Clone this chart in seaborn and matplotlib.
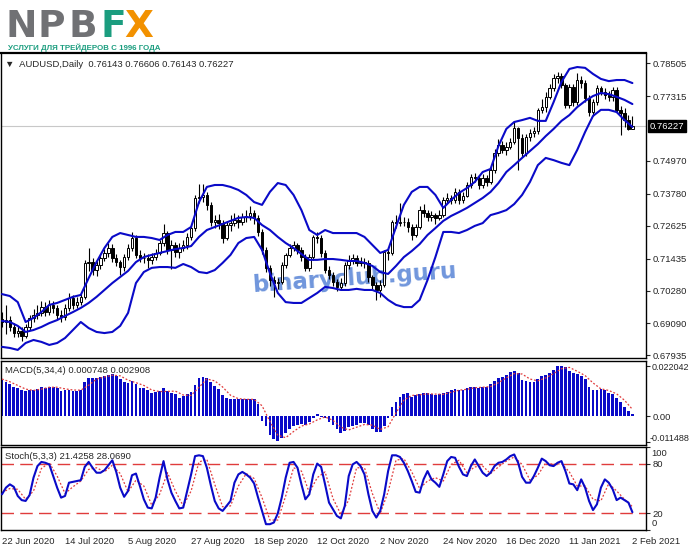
import numpy as np
import seaborn as sns
import matplotlib.pyplot as plt
from matplotlib.transforms import blended_transform_factory

sns.set_style("white")
plt.rcParams["font.family"] = ["Liberation Sans", "DejaVu Sans"]

# Daily candles AUDUSD, 22 Jun 2020 .. 2 Feb 2021
opens = [0.6925, 0.6914, 0.6921, 0.6896, 0.6874, 0.6882, 0.6863, 0.6896, 0.6929, 0.6939,
         0.6947, 0.6968, 0.6950, 0.6976, 0.6965, 0.6939, 0.6932, 0.6965, 0.7001, 0.6976,
         0.6987, 0.7005, 0.7128, 0.7131, 0.7102, 0.7120, 0.7146, 0.7164, 0.7182, 0.7146,
         0.7131, 0.7113, 0.7149, 0.7182, 0.7218, 0.7157, 0.7146, 0.7146, 0.7139, 0.7149,
         0.7164, 0.7200, 0.7236, 0.7175, 0.7193, 0.7167, 0.7182, 0.7193, 0.7222, 0.7254,
         0.7363, 0.7367, 0.7374, 0.7338, 0.7276, 0.7283, 0.7272, 0.7218, 0.7265, 0.7272,
         0.7283, 0.7276, 0.7294, 0.7298, 0.7309, 0.7291, 0.7240, 0.7175, 0.7110, 0.7066,
         0.7055, 0.7059, 0.7120, 0.7157, 0.7182, 0.7193, 0.7175, 0.7149, 0.7110, 0.7149,
         0.7222, 0.7218, 0.7164, 0.7102, 0.7084, 0.7059, 0.7041, 0.7055, 0.7120, 0.7139,
         0.7146, 0.7128, 0.7131, 0.7128, 0.7077, 0.7048, 0.7030, 0.7048, 0.7167, 0.7164,
         0.7276, 0.7272, 0.7276, 0.7276, 0.7258, 0.7229, 0.7258, 0.7320, 0.7309, 0.7294,
         0.7301, 0.7291, 0.7301, 0.7356, 0.7363, 0.7356, 0.7385, 0.7356, 0.7370, 0.7410,
         0.7439, 0.7435, 0.7410, 0.7435, 0.7421, 0.7464, 0.7526, 0.7555, 0.7537, 0.7548,
         0.7566, 0.7616, 0.7580, 0.7526, 0.7584, 0.7598, 0.7605, 0.7682, 0.7692, 0.7729,
         0.7761, 0.7797, 0.7805, 0.7772, 0.7700, 0.7765, 0.7710, 0.7790, 0.7779, 0.7725,
         0.7674, 0.7710, 0.7761, 0.7747, 0.7736, 0.7729, 0.7754, 0.7682, 0.7671, 0.7645,
         0.76143]
highs = [0.6950, 0.6975, 0.6935, 0.6910, 0.6900, 0.6895, 0.6905, 0.6940, 0.6962, 0.6975,
         0.6990, 0.6985, 0.6995, 0.6990, 0.6975, 0.6958, 0.6978, 0.7020, 0.7010, 0.7005,
         0.7015, 0.7140, 0.7182, 0.7145, 0.7135, 0.7160, 0.7180, 0.7200, 0.7195, 0.7160,
         0.7140, 0.7160, 0.7195, 0.7240, 0.7230, 0.7175, 0.7165, 0.7160, 0.7165, 0.7180,
         0.7210, 0.7268, 0.7245, 0.7210, 0.7205, 0.7200, 0.7210, 0.7235, 0.7265, 0.7375,
         0.7414, 0.7413, 0.7385, 0.7350, 0.7300, 0.7305, 0.7285, 0.7280, 0.7300, 0.7310,
         0.7300, 0.7310, 0.7320, 0.7335, 0.7320, 0.7300, 0.7250, 0.7185, 0.7120, 0.7080,
         0.7075, 0.7130, 0.7165, 0.7195, 0.7208, 0.7200, 0.7185, 0.7160, 0.7160, 0.7230,
         0.7240, 0.7230, 0.7175, 0.7115, 0.7095, 0.7070, 0.7075, 0.7130, 0.7155, 0.7160,
         0.7158, 0.7150, 0.7145, 0.7140, 0.7085, 0.7060, 0.7065, 0.7175, 0.7185, 0.7285,
         0.7300, 0.7345, 0.7295, 0.7290, 0.7270, 0.7270, 0.7335, 0.7340, 0.7320, 0.7315,
         0.7310, 0.7318, 0.7365, 0.7380, 0.7375, 0.7400, 0.7395, 0.7385, 0.7420, 0.7450,
         0.7455, 0.7445, 0.7450, 0.7445, 0.7475, 0.7540, 0.7575, 0.7570, 0.7565, 0.7580,
         0.7640, 0.7620, 0.7595, 0.7595, 0.7612, 0.7620, 0.7690, 0.7720, 0.7745, 0.7775,
         0.7810, 0.7820, 0.7815, 0.7780, 0.7775, 0.7775, 0.7815, 0.7805, 0.7790, 0.7735,
         0.7722, 0.7772, 0.7770, 0.7760, 0.7750, 0.7765, 0.7765, 0.7695, 0.7690, 0.7665,
         0.76606]
lows = [0.6895, 0.6870, 0.6880, 0.6860, 0.6858, 0.6845, 0.6855, 0.6885, 0.6915, 0.6925,
        0.6935, 0.6935, 0.6938, 0.6945, 0.6925, 0.6915, 0.6920, 0.6955, 0.6962, 0.6965,
        0.6975, 0.6998, 0.7100, 0.7085, 0.7080, 0.7105, 0.7135, 0.7150, 0.7130, 0.7115,
        0.7084, 0.7100, 0.7140, 0.7170, 0.7145, 0.7130, 0.7128, 0.7110, 0.7125, 0.7140,
        0.7155, 0.7190, 0.7160, 0.7105, 0.7150, 0.7145, 0.7170, 0.7180, 0.7210, 0.7245,
        0.7345, 0.7350, 0.7320, 0.7260, 0.7255, 0.7250, 0.7200, 0.7210, 0.7245, 0.7260,
        0.7255, 0.7265, 0.7275, 0.7285, 0.7270, 0.7225, 0.7160, 0.7095, 0.7045, 0.7005,
        0.7035, 0.7050, 0.7110, 0.7150, 0.7170, 0.7160, 0.7135, 0.7100, 0.7100, 0.7140,
        0.7200, 0.7150, 0.7090, 0.7070, 0.7045, 0.7025, 0.7030, 0.7045, 0.7105, 0.7125,
        0.7115, 0.7115, 0.7110, 0.7060, 0.7030, 0.6994, 0.7005, 0.7040, 0.7140, 0.7155,
        0.7255, 0.7260, 0.7260, 0.7240, 0.7210, 0.7220, 0.7250, 0.7295, 0.7280, 0.7280,
        0.7270, 0.7285, 0.7295, 0.7345, 0.7340, 0.7345, 0.7340, 0.7345, 0.7365, 0.7400,
        0.7420, 0.7395, 0.7400, 0.7405, 0.7415, 0.7455, 0.7515, 0.7525, 0.7520, 0.7540,
        0.7560, 0.7464, 0.7510, 0.7515, 0.7570, 0.7585, 0.7595, 0.7670, 0.7675, 0.7720,
        0.7750, 0.7780, 0.7760, 0.7690, 0.7690, 0.7695, 0.7700, 0.7760, 0.7710, 0.7660,
        0.7660, 0.7700, 0.7735, 0.7720, 0.7715, 0.7715, 0.7670, 0.7591, 0.7620, 0.7610,
        0.76143]
closes = [0.6914, 0.6921, 0.6896, 0.6874, 0.6882, 0.6863, 0.6896, 0.6929, 0.6939, 0.6947,
          0.6968, 0.6950, 0.6976, 0.6965, 0.6939, 0.6932, 0.6965, 0.7001, 0.6976, 0.6987,
          0.7005, 0.7128, 0.7131, 0.7102, 0.7120, 0.7146, 0.7164, 0.7182, 0.7146, 0.7131,
          0.7113, 0.7149, 0.7182, 0.7218, 0.7157, 0.7146, 0.7146, 0.7139, 0.7149, 0.7164,
          0.7200, 0.7236, 0.7175, 0.7193, 0.7167, 0.7182, 0.7193, 0.7222, 0.7254, 0.7363,
          0.7367, 0.7374, 0.7338, 0.7276, 0.7283, 0.7272, 0.7218, 0.7265, 0.7272, 0.7283,
          0.7276, 0.7294, 0.7298, 0.7309, 0.7291, 0.7240, 0.7175, 0.7110, 0.7066, 0.7055,
          0.7059, 0.7120, 0.7157, 0.7182, 0.7193, 0.7175, 0.7149, 0.7110, 0.7149, 0.7222,
          0.7218, 0.7164, 0.7102, 0.7084, 0.7059, 0.7041, 0.7055, 0.7120, 0.7139, 0.7146,
          0.7128, 0.7131, 0.7128, 0.7077, 0.7048, 0.7030, 0.7048, 0.7167, 0.7164, 0.7276,
          0.7272, 0.7276, 0.7276, 0.7258, 0.7229, 0.7258, 0.7320, 0.7309, 0.7294, 0.7301,
          0.7291, 0.7301, 0.7356, 0.7363, 0.7356, 0.7385, 0.7356, 0.7370, 0.7410, 0.7439,
          0.7435, 0.7410, 0.7435, 0.7421, 0.7464, 0.7526, 0.7555, 0.7537, 0.7548, 0.7566,
          0.7616, 0.7580, 0.7526, 0.7584, 0.7598, 0.7605, 0.7682, 0.7692, 0.7729, 0.7761,
          0.7797, 0.7805, 0.7772, 0.7700, 0.7765, 0.7710, 0.7790, 0.7779, 0.7725, 0.7674,
          0.7710, 0.7761, 0.7747, 0.7736, 0.7729, 0.7754, 0.7682, 0.7671, 0.7645, 0.7614,
          0.76227]

# Bollinger bands, read every second bar
band_bars = list(range(0, 161, 2))
bb_upper = [0.7015, 0.7008, 0.6986, 0.6914, 0.6929, 0.6950, 0.6976, 0.6983, 0.6994, 0.7005,
            0.7012, 0.7073, 0.7131, 0.7182, 0.7222, 0.7236, 0.7229, 0.7222, 0.7222, 0.7218,
            0.7211, 0.7229, 0.7240, 0.7240, 0.7258, 0.7348, 0.7403, 0.7410, 0.7410, 0.7403,
            0.7392, 0.7374, 0.7348, 0.7338, 0.7385, 0.7417, 0.7410, 0.7374, 0.7319, 0.7247,
            0.7229, 0.7247, 0.7236, 0.7236, 0.7236, 0.7236, 0.7222, 0.7193, 0.7164, 0.7175,
            0.7258, 0.7338, 0.7385, 0.7403, 0.7403, 0.7374, 0.7327, 0.7356, 0.7381, 0.7399,
            0.7421, 0.7457, 0.7468, 0.7551, 0.7613, 0.7638, 0.7645, 0.7653, 0.7642, 0.7642,
            0.7710, 0.7783, 0.7830, 0.7837, 0.7834, 0.7812, 0.7794, 0.7786, 0.7790, 0.7790,
            0.7779]
bb_middle = [0.6918, 0.6914, 0.6900, 0.6878, 0.6885, 0.6896, 0.6910, 0.6921, 0.6936, 0.6950,
             0.6965, 0.6983, 0.7005, 0.7030, 0.7055, 0.7077, 0.7099, 0.7131, 0.7149, 0.7157,
             0.7164, 0.7171, 0.7178, 0.7182, 0.7189, 0.7222, 0.7247, 0.7258, 0.7269, 0.7280,
             0.7291, 0.7294, 0.7291, 0.7265, 0.7247, 0.7222, 0.7200, 0.7182, 0.7160, 0.7139,
             0.7139, 0.7142, 0.7142, 0.7139, 0.7135, 0.7135, 0.7128, 0.7117, 0.7095, 0.7088,
             0.7117, 0.7149, 0.7171, 0.7196, 0.7229, 0.7254, 0.7280, 0.7298, 0.7312, 0.7327,
             0.7345, 0.7363, 0.7385, 0.7417, 0.7457, 0.7482, 0.7508, 0.7533, 0.7558, 0.7587,
             0.7613, 0.7642, 0.7663, 0.7692, 0.7714, 0.7732, 0.7743, 0.7739, 0.7729, 0.7718,
             0.7703]
bb_lower = [0.6824, 0.6820, 0.6813, 0.6838, 0.6849, 0.6842, 0.6831, 0.6838, 0.6856, 0.6885,
            0.6914, 0.6892, 0.6878, 0.6874, 0.6878, 0.6900, 0.6947, 0.7055, 0.7095, 0.7110,
            0.7113, 0.7113, 0.7110, 0.7124, 0.7113, 0.7095, 0.7091, 0.7102, 0.7128, 0.7157,
            0.7200, 0.7218, 0.7222, 0.7175, 0.7091, 0.7019, 0.6986, 0.6983, 0.6983, 0.7001,
            0.7019, 0.7041, 0.7037, 0.7030, 0.7030, 0.7034, 0.7030, 0.7030, 0.7019, 0.6994,
            0.6976, 0.6968, 0.6968, 0.6994, 0.7066, 0.7149, 0.7240, 0.7240, 0.7236, 0.7247,
            0.7262, 0.7272, 0.7301, 0.7309, 0.7319, 0.7341, 0.7374, 0.7421, 0.7482, 0.7508,
            0.7500, 0.7490, 0.7482, 0.7537, 0.7602, 0.7660, 0.7682, 0.7682, 0.7674, 0.7645,
            0.7620]

# MACD(5,34,4): histogram per bar, signal every second bar
macd_hist = [0.01577, 0.01475, 0.01387, 0.01285, 0.01212, 0.01139, 0.01095, 0.01124, 0.01139, 0.01183,
             0.01270, 0.01241, 0.01285, 0.01270, 0.01212, 0.01095, 0.01139, 0.01153, 0.01110, 0.01095,
             0.01153, 0.01475, 0.01679, 0.01650, 0.01679, 0.01723, 0.01767, 0.01796, 0.01854, 0.01767,
             0.01621, 0.01475, 0.01431, 0.01533, 0.01387, 0.01241, 0.01212, 0.01139, 0.00993, 0.01037,
             0.01095, 0.01212, 0.01095, 0.01022, 0.00949, 0.00803, 0.00891, 0.00949, 0.01037, 0.01358,
             0.01679, 0.01723, 0.01650, 0.01475, 0.01329, 0.01183, 0.00920, 0.00774, 0.00745, 0.00730,
             0.00730, 0.00730, 0.00730, 0.00730, 0.00730, 0.00511, -0.00219, -0.00423, -0.00832, -0.01007,
             -0.01095, -0.00949, -0.00759, -0.00569, -0.00438, -0.00394, -0.00350, -0.00394, -0.00248, -0.00102,
             0.00073, -0.00029, -0.00102, -0.00248, -0.00394, -0.00569, -0.00759, -0.00657, -0.00467, -0.00423,
             -0.00394, -0.00321, -0.00321, -0.00394, -0.00569, -0.00686, -0.00715, -0.00423, -0.00073, 0.00409,
             0.00628, 0.00818, 0.00949, 0.00993, 0.00847, 0.00920, 0.00978, 0.00993, 0.00993, 0.00949,
             0.00920, 0.00949, 0.00993, 0.01066, 0.01139, 0.01168, 0.01139, 0.01139, 0.01241, 0.01285,
             0.01285, 0.01212, 0.01270, 0.01285, 0.01387, 0.01533, 0.01650, 0.01708, 0.01796, 0.01942,
             0.01986, 0.01869, 0.01577, 0.01533, 0.01504, 0.01504, 0.01621, 0.01767, 0.01796, 0.01869,
             0.02015, 0.02190, 0.02204, 0.02146, 0.01971, 0.01869, 0.01840, 0.01767, 0.01621, 0.01285,
             0.01139, 0.01153, 0.01183, 0.01139, 0.00993, 0.00949, 0.00803, 0.00599, 0.00409, 0.00219,
             0.000748]
macd_signal = [0.0162, 0.0150, 0.0134, 0.0118, 0.0112, 0.0118, 0.0126, 0.0126, 0.0119, 0.0114,
               0.0113, 0.0135, 0.0162, 0.0171, 0.0179, 0.0176, 0.0157, 0.0146, 0.0134, 0.0114,
               0.0107, 0.0108, 0.0109, 0.0092, 0.0090, 0.0126, 0.0162, 0.0154, 0.0127, 0.0091,
               0.0076, 0.0073, 0.0073, 0.0045, -0.0024, -0.0084, -0.0095, -0.0068, -0.0044, -0.0035,
               -0.0017, -0.0004, -0.0019, -0.0049, -0.0061, -0.0049, -0.0037, -0.0040, -0.0059, -0.0047,
               0.0014, 0.0070, 0.0090, 0.0093, 0.0097, 0.0096, 0.0095, 0.0104, 0.0113, 0.0117,
               0.0124, 0.0126, 0.0129, 0.0146, 0.0167, 0.0186, 0.0184, 0.0162, 0.0154, 0.0167,
               0.0186, 0.0207, 0.0213, 0.0196, 0.0177, 0.0145, 0.0119, 0.0112, 0.0097, 0.0069,
               0.002908]

# Stochastic(5,3,3): main per bar, signal every second bar
stoch_main = [43, 51, 55, 52, 41, 36, 35, 42, 63, 77,
              82, 81, 79, 65, 51, 39, 41, 57, 58, 59,
              60, 76, 82, 75, 69, 69, 72, 78, 84, 70,
              51, 40, 47, 66, 68, 53, 37, 27, 26, 39,
              63, 83, 61, 45, 35, 26, 27, 47, 67, 89,
              90, 89, 75, 54, 35, 26, 23, 29, 35, 57,
              67, 70, 67, 63, 56, 39, 23, 7, 7, 9,
              20, 39, 63, 81, 82, 75, 55, 37, 43, 67,
              80, 76, 55, 33, 25, 17, 14, 29, 65, 79,
              82, 77, 67, 43, 23, 15, 23, 43, 71, 90,
              90, 88, 81, 71, 59, 46, 45, 61, 71, 61,
              57, 52, 67, 83, 88, 87, 76, 67, 65, 77,
              85, 77, 69, 65, 69, 77, 81, 82, 85, 89,
              91, 81, 64, 57, 57, 65, 75, 86, 83, 78,
              77, 81, 83, 71, 56, 55, 48, 61, 51, 35,
              24, 31, 51, 61, 57, 49, 36, 39, 36, 33,
              21.4258]
stoch_signal = [45, 50, 49, 37, 47, 74, 81, 65, 44, 52,
                59, 73, 75, 70, 78, 68, 46, 60, 53, 30,
                43, 69, 47, 29, 47, 82, 85, 55, 28, 29,
                53, 68, 62, 39, 12, 12, 41, 75, 71, 45,
                63, 70, 38, 19, 36, 75, 75, 44, 20, 46,
                84, 86, 70, 50, 59, 63, 59, 79, 84, 69,
                76, 77, 68, 76, 83, 88, 79, 60, 66, 81,
                79, 80, 70, 53, 53, 37, 35, 56, 47, 37,
                28.069]

date_ticks = [0, 16, 32, 48, 64, 80, 96, 112, 128, 144, 160]
date_labels = ["22 Jun 2020", "14 Jul 2020", "5 Aug 2020", "27 Aug 2020", "18 Sep 2020",
               "12 Oct 2020", "2 Nov 2020", "24 Nov 2020", "16 Dec 2020", "11 Jan 2021",
               "2 Feb 2021"]
price_ticks = [0.78505, 0.77315, 0.74970, 0.73780, 0.72625, 0.71435, 0.70280, 0.69090, 0.67935]

W, H = 691, 549
fig = plt.figure(figsize=(W / 100, H / 100), dpi=100)


def box(x0, y0, x1, y1):
    return [x0 / W, 1 - y1 / H, (x1 - x0) / W, (y1 - y0) / H]


ax = fig.add_axes(box(1, 53, 646, 358))
ax_macd = fig.add_axes(box(1, 361, 646, 445))
ax_st = fig.add_axes(box(1, 447, 646, 530))

BLUE = "#0a0ac8"
RED = "#e03c3c"
FS = 6.8
bars = np.arange(len(closes))

# --- price panel ---
o = np.array(opens)
c = np.array(closes)
ax.vlines(bars, lows, highs, color="black", lw=0.8, zorder=2)
ax.bar(bars, np.maximum(np.abs(c - o), 0.00006), bottom=np.minimum(o, c), width=0.62,
       color=np.where(c >= o, "white", "black"), edgecolor="black", lw=0.7, zorder=2)
for band in (bb_upper, bb_middle, bb_lower):
    sns.lineplot(x=band_bars, y=band, ax=ax, color=BLUE, lw=1.5, zorder=3, legend=False)

ax.axhline(closes[-1], color="#c8c8c8", lw=0.8, zorder=1)
ax.text(0.548, 0.262, "binaryclub.guru", transform=ax.transAxes, fontsize=16.5,
        fontweight="bold", color="#7096dc", rotation=4, ha="center", va="center", zorder=1,
        family=["DejaVu Sans"])
ax.text(0.006, 0.962, "\u25bc  AUDUSD,Daily  0.76143 0.76606 0.76143 0.76227",
        transform=ax.transAxes, fontsize=FS, va="center", ha="left")
ax.set_ylim(0.67837, 0.78878)
ax.set_yticks(price_ticks)
ax.set_yticklabels([f"{v:.5f}" for v in price_ticks])
trans = blended_transform_factory(ax.transAxes, ax.transData)
ax.text(1.005, closes[-1], f"{closes[-1]:.5f}", transform=trans, fontsize=FS, color="white",
        va="center", ha="left", bbox=dict(facecolor="black", edgecolor="black", pad=1.2))

# --- MACD panel ---
ax_macd.bar(bars, macd_hist, width=0.7, color=BLUE, lw=0, zorder=2)
sns.lineplot(x=band_bars, y=macd_signal, ax=ax_macd, color=RED, lw=0.9,
             linestyle=(0, (1.5, 1.5)), zorder=3, legend=False)
ax_macd.set_ylim(-0.0127, 0.0241)
macd_levels = [0.022042, 0.0, -0.011488]
ax_macd.set_yticks(macd_levels)
ax_macd.set_yticklabels(["", "0.00", ""])
mtrans = blended_transform_factory(ax_macd.transAxes, ax_macd.transData)
ax_macd.annotate("0.022042", xy=(1, macd_levels[0]), xycoords=mtrans, xytext=(4, -1.5),
                 textcoords="offset points", fontsize=6.5, va="center", ha="left",
                 annotation_clip=False)
ax_macd.annotate("-0.011488", xy=(1, macd_levels[2]), xycoords=mtrans, xytext=(2.5, 2.5),
                 textcoords="offset points", fontsize=6.5, va="center", ha="left",
                 annotation_clip=False)
ax_macd.text(0.006, 0.89, "MACD(5,34,4) 0.000748 0.002908", transform=ax_macd.transAxes,
             fontsize=FS, va="center", ha="left")

# --- Stochastic panel ---
for lvl in (80, 20):
    ax_st.axhline(lvl, color=RED, lw=1.0, dashes=(9, 4.5), zorder=1)
sns.lineplot(x=bars, y=stoch_main, ax=ax_st, color=BLUE, lw=1.5, zorder=3, legend=False)
sns.lineplot(x=band_bars, y=stoch_signal, ax=ax_st, color=RED, lw=0.9,
             linestyle=(0, (1.5, 1.5)), zorder=2, legend=False)
ax_st.set_ylim(0, 100)
ax_st.set_yticks([100, 80, 20, 0])
ax_st.set_yticklabels(["", "80", "20", ""])
strans = blended_transform_factory(ax_st.transAxes, ax_st.transData)
ax_st.annotate("100", xy=(1, 100), xycoords=strans, xytext=(4, -4.5),
               textcoords="offset points", fontsize=FS, va="center", ha="left",
               annotation_clip=False)
ax_st.annotate("0", xy=(1, 0), xycoords=strans, xytext=(4, 4.5),
               textcoords="offset points", fontsize=FS, va="center", ha="left",
               annotation_clip=False)
ax_st.text(0.006, 0.89, "Stoch(5,3,3) 21.4258 28.0690", transform=ax_st.transAxes,
           fontsize=FS, va="center", ha="left")
ax_st.set_xticks(date_ticks)
ax_st.set_xticklabels(date_labels, ha="left", fontsize=FS)
ax_st.tick_params(axis="x", length=3, pad=2, width=0.8)

for a in (ax, ax_macd, ax_st):
    a.set_xlim(-0.25, 163.45)
    a.set_xlabel("")
    a.set_ylabel("")
    a.yaxis.tick_right()
    a.tick_params(axis="y", length=3, pad=1.5, labelsize=FS, width=0.8, right=True, left=False)
    for s in a.spines.values():
        s.set_color("black")
        s.set_linewidth(1.0)
ax.spines["top"].set_linewidth(1.6)
ax.set_xticks([])
ax_macd.set_xticks([])

# --- logo ---
logo_font = ["DejaVu Sans"]
for ch, xc, col in (("N", 21.5, "#707174"), ("P", 51, "#707174"), ("B", 82.5, "#707174"),
                    ("F", 113.5, "#1b9d7f"), ("X", 139, "#f29100")):
    fig.text(xc / W, 1 - 37 / H, ch, fontsize=27, fontweight="bold", color=col,
             ha="center", va="baseline", family=logo_font)
fig.text(8 / W, 1 - 49.5 / H, "УСЛУГИ ДЛЯ ТРЕЙДЕРОВ С 1996 ГОДА", fontsize=5.7,
         fontweight="bold", color="#1b9d7f", ha="left", va="baseline",
         family=["Liberation Sans Narrow", "Liberation Sans", "DejaVu Sans"])

fig.savefig("out.png", dpi=100)
